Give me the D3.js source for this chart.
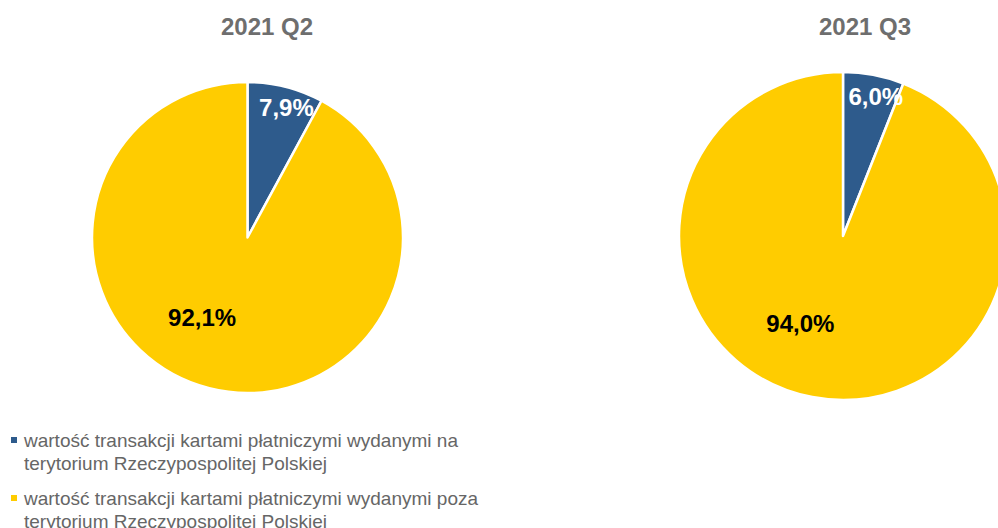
<!DOCTYPE html>
<html>
<head>
<meta charset="utf-8">
<script src="https://cdn.jsdelivr.net/npm/d3@7"></script>
<style>
  body { margin: 0; background: #fff; }
  svg { display: block; font-family: "Liberation Sans", Arial, sans-serif; }
</style>
</head>
<body>
<div id="chart"></div>
<script>
// data
var quarters = ["2021 Q2", "2021 Q3"];
var domestic = [7.9, 6.0];   // cards issued in Poland
var foreign  = [92.1, 94.0]; // cards issued outside Poland
var seriesNames = [
  ["wartość transakcji kartami płatniczymi wydanymi na", "terytorium Rzeczypospolitej Polskiej"],
  ["wartość transakcji kartami płatniczymi wydanymi poza", "terytorium Rzeczypospolitej Polskiej"]
];
var colors = ["#2e5b8c", "#ffcc00"];

var width = 998,
    height = 528;

// pie placement
var pies = [
  {cx: 247.5, cy: 237.5, r: 155.5, tx: 267},
  {cx: 843, cy: 236, r: 164, tx: 865}
];

var svg = d3.select("#chart").append("svg")
    .attr("width", width)
    .attr("height", height);

var pie = d3.pie().sort(null).value(function(d) { return d; });

function fmt(v) { return v.toFixed(1).replace(".", ",") + "%"; }

quarters.forEach(function(q, qi) {
  var p = pies[qi];
  var values = [domestic[qi], foreign[qi]];
  var arcs = pie(values);
  var arc = d3.arc().innerRadius(0).outerRadius(p.r);

  svg.append("text")
      .attr("x", p.tx)
      .attr("y", 35)
      .attr("text-anchor", "middle")
      .style("font-size", "24px")
      .style("font-weight", "bold")
      .style("fill", "#6e6e6e")
      .text(q);

  var g = svg.append("g")
      .attr("transform", "translate(" + p.cx + "," + p.cy + ")");

  g.selectAll("path")
      .data(arcs)
      .enter().append("path")
      .attr("d", arc)
      .attr("fill", function(d, i) { return colors[i]; })
      .attr("stroke", "#fff")
      .attr("stroke-width", 2.5)
      .attr("stroke-linejoin", "round");

  g.selectAll("text.lbl")
      .data(arcs)
      .enter().append("text")
      .attr("class", "lbl")
      .attr("transform", function(d, i) {
        var mid = (d.startAngle + d.endAngle) / 2;
        var a = i == 0 ? mid + 0.045 : mid + 0.26;
        var rr = i == 0 ? p.r * 0.865 : p.r * 0.6;
        return "translate(" + (Math.sin(a) * rr) + "," + (-Math.cos(a) * rr) + ")";
      })
      .attr("text-anchor", "middle")
      .attr("dy", ".3em")
      .style("font-size", "24px")
      .style("font-weight", "bold")
      .style("fill", function(d, i) { return i == 0 ? "#fff" : "#000"; })
      .text(function(d) { return fmt(d.data); });
});

// legend
var legend = svg.selectAll(".legend")
    .data(seriesNames)
    .enter().append("g")
    .attr("class", "legend")
    .attr("transform", function(d, i) { return "translate(0," + (447 + i * 58) + ")"; });

legend.append("rect")
    .attr("x", 11)
    .attr("y", -10)
    .attr("width", 6)
    .attr("height", 6)
    .attr("fill", function(d, i) { return colors[i]; });

legend.append("text")
    .attr("x", 24)
    .style("font-size", "19px")
    .style("fill", "#666")
    .selectAll("tspan")
    .data(function(d) { return d; })
    .enter().append("tspan")
    .attr("x", 24)
    .attr("y", function(d, i) { return i * 23; })
    .text(function(d) { return d; });
</script>
</body>
</html>
